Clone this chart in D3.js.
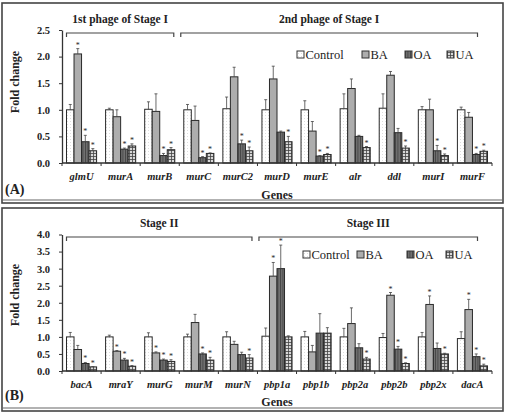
<!DOCTYPE html>
<html>
<head>
<meta charset="utf-8">
<style>
  body { margin: 0; background: #fff; }
  svg text { font-family: "Liberation Serif", "Times New Roman", serif; fill: #222; }
</style>
</head>
<body>
<svg width="506" height="416"></svg>
<script src="https://d3js.org/d3.v7.min.js"></script>
<script>

const series = ["Control", "BA", "OA", "UA"];

// Panel A - stage I genes
const genesA = ["glmU", "murA", "murB", "murC", "murC2", "murD", "murE", "alr", "ddl", "murI", "murF"];
const controlA = [1.00, 1.00, 1.01, 1.00, 1.02, 1.00, 1.00, 1.02, 1.03, 1.00, 1.00];
const baA      = [2.05, 0.87, 0.97, 0.80, 1.62, 1.58, 0.60, 1.40, 1.65, 1.00, 0.86];
const oaA      = [0.40, 0.26, 0.14, 0.10, 0.36, 0.58, 0.13, 0.50, 0.57, 0.23, 0.16];
const uaA      = [0.23, 0.32, 0.25, 0.18, 0.23, 0.40, 0.16, 0.29, 0.28, 0.14, 0.22];
const controlErrA = [1.10, 1.03, 1.15, 1.10, 1.24, 1.19, 1.17, 1.30, 1.30, 1.06, 1.05];
const baErrA      = [2.15, 1.00, 1.30, 1.07, 1.80, 1.82, 0.78, 1.58, 1.72, 1.20, 0.95];
const oaErrA      = [0.52, 0.28, 0.18, 0.12, 0.43, 0.60, 0.14, 0.52, 0.65, 0.33, 0.18];
const uaErrA      = [0.27, 0.36, 0.29, 0.19, 0.30, 0.50, 0.18, 0.31, 0.32, 0.17, 0.24];
const starsA = [["BA","OA","UA"], ["OA","UA"], ["OA","UA"], ["OA","UA"], ["OA","UA"], ["UA"],
                ["OA","UA"], ["UA"], ["UA"], ["OA","UA"], ["OA","UA"]];
const stagesA = [["1st phage of Stage I", "glmU", "murB"], ["2nd phage of Stage I", "murC", "murF"]];

// Panel B - stage II and III genes
const genesB = ["bacA", "mraY", "murG", "murM", "murN", "pbp1a", "pbp1b", "pbp2a", "pbp2b", "pbp2x", "dacA"];
const controlB = [1.00, 1.00, 1.00, 1.00, 1.00, 1.02, 1.00, 1.00, 0.98, 1.00, 0.95];
const baB      = [0.63, 0.58, 0.53, 1.42, 0.78, 2.78, 0.56, 1.39, 2.22, 1.95, 1.80];
const oaB      = [0.22, 0.32, 0.32, 0.50, 0.48, 3.00, 1.11, 0.68, 0.64, 0.66, 0.42];
const uaB      = [0.12, 0.14, 0.28, 0.32, 0.38, 1.00, 1.11, 0.35, 0.22, 0.50, 0.15];
const controlErrB = [1.13, 1.05, 1.12, 1.08, 1.15, 1.26, 1.16, 1.25, 1.10, 1.13, 1.15];
const baErrB      = [0.75, 0.60, 0.56, 1.66, 0.87, 3.18, 0.75, 1.85, 2.30, 2.20, 2.10];
const oaErrB      = [0.25, 0.37, 0.35, 0.53, 0.55, 3.69, 1.68, 0.80, 0.72, 0.82, 0.50];
const uaErrB      = [0.13, 0.16, 0.33, 0.40, 0.48, 1.03, 1.27, 0.40, 0.24, 0.52, 0.20];
const starsB = [["OA","UA"], ["BA","OA","UA"], ["BA","OA","UA"], ["OA","UA"], ["UA"], ["BA","OA"],
                [], ["UA"], ["BA","OA","UA"], ["BA","UA"], ["BA","OA","UA"]];
const stagesB = [["Stage II", "bacA", "murN"], ["Stage III", "pbp1a", "dacA"]];

const svg = d3.select("svg");
const defs = svg.append("defs");

// fill patterns, imitating the excel print
let p = defs.append("pattern").attr("id", "pControl").attr("patternUnits", "userSpaceOnUse")
  .attr("width", 3).attr("height", 3);
p.append("rect").attr("width", 3).attr("height", 3).attr("fill", "#fff");
p.append("rect").attr("x", 1).attr("y", 1).attr("width", 0.8).attr("height", 0.8).attr("fill", "#ccc");

p = defs.append("pattern").attr("id", "pOA").attr("patternUnits", "userSpaceOnUse")
  .attr("width", 2.5).attr("height", 3);
p.append("rect").attr("width", 2.5).attr("height", 3).attr("fill", "#707070");
p.append("rect").attr("x", 0).attr("width", 0.9).attr("height", 3).attr("fill", "#444");

p = defs.append("pattern").attr("id", "pUA").attr("patternUnits", "userSpaceOnUse")
  .attr("width", 3).attr("height", 3);
p.append("rect").attr("width", 3).attr("height", 3).attr("fill", "#d8d8d8");
p.append("rect").attr("x", 0).attr("width", 0.8).attr("height", 3).attr("fill", "#444");
p.append("rect").attr("y", 0).attr("width", 3).attr("height", 0.8).attr("fill", "#444");

const fills = {Control: "url(#pControl)", BA: "#adadad", OA: "url(#pOA)", UA: "url(#pUA)"};

function drawPanel(o) {
  const g = svg.append("g");

  // frame
  g.append("rect").attr("x", 2).attr("y", o.frameTop).attr("width", 501).attr("height", o.frameBottom - o.frameTop)
    .attr("fill", "none").attr("stroke", "#444").attr("stroke-width", 1.6);
  g.append("line").attr("x1", 2).attr("x2", 503).attr("y1", o.frameBottom - 3).attr("y2", o.frameBottom - 3)
    .attr("stroke", "#666").attr("stroke-width", 1.2);

  const x0 = d3.scaleBand().domain(o.genes).range([62, 492]).paddingInner(0.23).paddingOuter(0.115);
  const x1 = d3.scaleBand().domain(series).range([0, x0.bandwidth()]);
  const y = d3.scaleLinear().domain([0, o.yMax]).range([o.bottom, o.top]);

  const rows = [];
  o.genes.forEach((gene, i) => {
    series.forEach((s, k) => {
      rows.push({gene: gene, s: s, v: o.values[k][i], e: o.errors[k][i], star: o.stars[i].includes(s)});
    });
  });

  g.selectAll(".bar").data(rows).enter().append("rect")
    .attr("x", d => x0(d.gene) + x1(d.s))
    .attr("y", d => y(d.v))
    .attr("width", x1.bandwidth())
    .attr("height", d => y(0) - y(d.v))
    .attr("fill", d => fills[d.s])
    .attr("stroke", "#2a2a2a")
    .attr("stroke-width", 1);

  // upper error bars only
  const err = g.selectAll(".err").data(rows).enter().append("g")
    .attr("transform", d => "translate(" + (x0(d.gene) + x1(d.s) + x1.bandwidth() / 2) + ",0)");
  err.append("line").attr("y1", d => y(d.v)).attr("y2", d => y(d.e))
    .attr("stroke", "#444").attr("stroke-width", 0.8);
  err.append("line").attr("x1", -1.5).attr("x2", 1.5).attr("y1", d => y(d.e)).attr("y2", d => y(d.e))
    .attr("stroke", "#444").attr("stroke-width", 0.8);

  g.selectAll(".star").data(rows.filter(d => d.star)).enter().append("text")
    .attr("x", d => x0(d.gene) + x1(d.s) + x1.bandwidth() / 2)
    .attr("y", d => y(d.e) - 1)
    .attr("text-anchor", "middle")
    .style("font-size", "8px")
    .text("*");

  // y axis
  const yAxis = g.append("g").attr("transform", "translate(62,0)")
    .call(d3.axisLeft(y).tickValues(d3.range(0, o.yMax + 0.01, 0.5)).tickFormat(d3.format(".1f"))
      .tickSize(3).tickSizeOuter(0).tickPadding(9));
  yAxis.select(".domain").attr("stroke", "#333").attr("stroke-width", 1.3);
  yAxis.selectAll(".tick line").attr("stroke", "#333");
  yAxis.selectAll(".tick text").style("font-size", "10.5px").style("font-weight", "bold").attr("fill", "#222");

  // x axis with ticks between groups
  const step = x0.step();
  g.append("line").attr("x1", 62).attr("x2", 492).attr("y1", y(0)).attr("y2", y(0))
    .attr("stroke", "#333").attr("stroke-width", 1.3);
  g.selectAll(".xt").data(d3.range(o.genes.length + 1)).enter().append("line")
    .attr("x1", i => 62 + i * step).attr("x2", i => 62 + i * step)
    .attr("y1", y(0)).attr("y2", y(0) + 3)
    .attr("stroke", "#333");
  g.selectAll(".gl").data(o.genes).enter().append("text")
    .attr("x", d => x0(d) + x0.bandwidth() / 2)
    .attr("y", o.bottom + 17)
    .attr("text-anchor", "middle")
    .style("font-size", "10.5px").style("font-weight", "bold").style("font-style", "italic")
    .text(d => d);

  g.append("text").attr("transform", "translate(19," + o.ylabelY + ") rotate(-90)")
    .attr("text-anchor", "middle").style("font-size", "12px").style("font-weight", "bold")
    .text("Fold change");
  g.append("text").attr("x", 277).attr("y", o.genesY).attr("text-anchor", "middle")
    .style("font-size", "12px").style("font-weight", "bold").text("Genes");
  g.append("text").attr("x", 5).attr("y", o.tagY)
    .style("font-size", "14px").style("font-weight", "bold").text(o.tag);

  // stage brackets
  o.stages.forEach((st, i) => {
    const a = x0(st[1]) + (i === 0 ? 0 : -3);
    const b = x0(st[2]) + x0.bandwidth() - (i === 0 ? 1 : 10);
    const by = o.bracketY;
    g.append("path").attr("d", "M" + a + "," + (by + 4) + "V" + by + "H" + b + "V" + (by + 4))
      .attr("fill", "none").attr("stroke", "#444").attr("stroke-width", 1.2);
    g.append("text").attr("x", (a + b) / 2).attr("y", by - 10).attr("text-anchor", "middle")
      .style("font-size", "11.5px").style("font-weight", "bold").text(st[0]);
  });

  // legend
  const lg = g.selectAll(".lg").data(series).enter().append("g")
    .attr("transform", (d, i) => "translate(" + o.legendX[i] + "," + o.legendY + ")");
  lg.append("rect").attr("x", 0).attr("y", -4).attr("width", 7).attr("height", 7)
    .attr("fill", d => fills[d]).attr("stroke", "#333").attr("stroke-width", 1);
  lg.append("text").attr("x", 8.5).attr("y", 4).style("font-size", "12.5px").text(d => d);
}

drawPanel({
  genes: genesA, values: [controlA, baA, oaA, uaA], errors: [controlErrA, baErrA, oaErrA, uaErrA],
  stars: starsA, stages: stagesA, yMax: 2.5, top: 30, bottom: 163,
  frameTop: 3, frameBottom: 203, bracketY: 33, ylabelY: 82, genesY: 199, tagY: 194, tag: "(A)",
  legendX: [297, 362, 405, 447], legendY: 55
});

drawPanel({
  genes: genesB, values: [controlB, baB, oaB, uaB], errors: [controlErrB, baErrB, oaErrB, uaErrB],
  stars: starsB, stages: stagesB, yMax: 4.0, top: 234.5, bottom: 371,
  frameTop: 208, frameBottom: 411, bracketY: 237, ylabelY: 295, genesY: 406, tagY: 400, tag: "(B)",
  legendX: [303, 357, 407, 446], legendY: 255
});

</script>
</body>
</html>
